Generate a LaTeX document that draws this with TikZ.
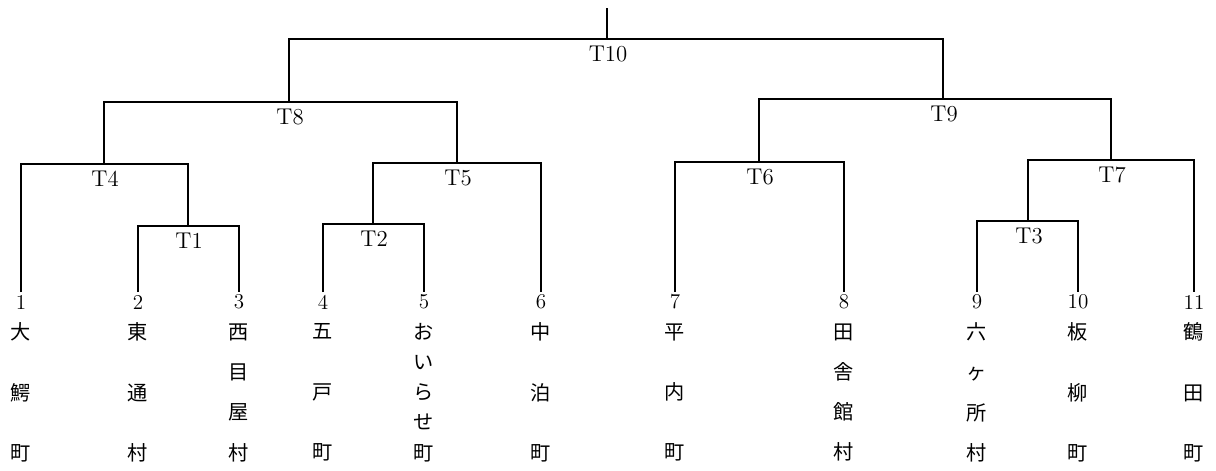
\documentclass[tikz,border=0pt]{standalone}
\usepackage{fontspec}
\newfontfamily\cjk{Noto Sans CJK JP}
\begin{document}
\begin{tikzpicture}[x=0.02cm, y=-0.02cm, line width=1.1pt,
  tlab/.style={font=\fontsize{13pt}{13pt}\selectfont,inner sep=0pt,xshift=0.6pt,yshift=-8.5pt},
  num/.style={font=\fontsize{12pt}{12pt}\selectfont,inner sep=0pt},
  town/.style={font=\cjk\fontsize{11.5pt}{#1}\selectfont,align=center,inner sep=0pt}]
\useasboundingbox (0,0) rectangle (1216,470);
% merge points
\coordinate (top) at (607,8);
\coordinate (T10) at (607,39);
\coordinate (T8) at (289,102); \coordinate (T9) at (943,99);
\coordinate (T4) at (104,164); \coordinate (T5) at (457,163);
\coordinate (T6) at (759,162); \coordinate (T7) at (1111,160);
\coordinate (T1) at (188,226); \coordinate (T2) at (373,224); \coordinate (T3) at (1028,221);
% leaves and numbers
\foreach \x [count=\i] in {21,138,239,323,424,541,675,844,977,1078,1194} {
  \coordinate (L\i) at (\x,292);
  \node[num] (n\i) at (\x,302) {\i};
}
% tree
\draw (top) -- (T10);
\draw (T8) |- (T10) -| (T9);
\draw (T4) |- (T8) -| (T5);
\draw (T6) |- (T9) -| (T7);
\draw (L1) |- (T4) -| (T1);
\draw (L2) |- (T1) -| (L3);
\draw (T2) |- (T5) -| (L6);
\draw (L4) |- (T2) -| (L5);
\draw (L7) |- (T6) -| (L8);
\draw (T3) |- (T7) -| (L11);
\draw (L9) |- (T3) -| (L10);
% cluster labels
\foreach \t in {1,...,10} \node[tlab] (l\t) at (T\t) {T\t};
% town names
\node[town=34.4pt] (w1) at (21,392.5) {大\\鰐\\町};
\node[town=34.4pt] (w2) at (138,392.5) {東\\通\\村};
\node[town=22.95pt] (w3) at (239,392.5) {西\\目\\屋\\村};
\node[town=34.4pt] (w4) at (323,392.5) {五\\戸\\町};
\node[town=17.2pt] (w5) at (424,392.5) {お\\い\\ら\\せ\\町};
\node[town=34.4pt] (w6) at (541,392.5) {中\\泊\\町};
\node[town=34.4pt] (w7) at (675,392.5) {平\\内\\町};
\node[town=22.95pt] (w8) at (844,392.5) {田\\舎\\館\\村};
\node[town=22.95pt] (w9) at (977,392.5) {六\\ヶ\\所\\村};
\node[town=34.4pt] (w10) at (1078,392.5) {板\\柳\\町};
\node[town=34.4pt] (w11) at (1194,392.5) {鶴\\田\\町};
\end{tikzpicture}
\end{document}
